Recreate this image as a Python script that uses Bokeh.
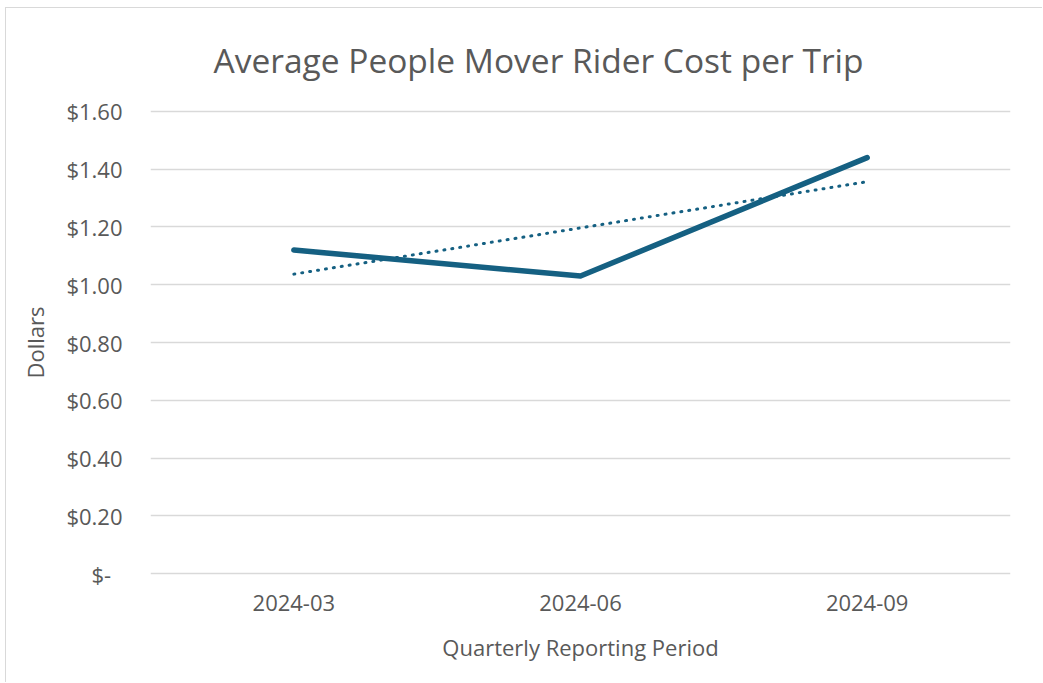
import numpy as np
from bokeh.plotting import figure
from bokeh.models import FactorRange, Range1d, FixedTicker, CustomJSTickFormatter, Title
from bokeh.embed import file_html
from bokeh.resources import INLINE

periods = ["2024-03", "2024-06", "2024-09"]
cost = [1.12, 1.03, 1.44]
y_ticks = [0.0, 0.2, 0.4, 0.6, 0.8, 1.0, 1.2, 1.4, 1.6]

# linear trendline (least squares on period index), as in the source chart
idx = np.arange(len(cost))
slope, intercept = np.polyfit(idx, cost, 1)
trend = list(intercept + slope * idx)

LINE = "#156082"
TXT = "#595959"
FONT = "Open Sans"

p = figure(width=1037, height=675, x_range=FactorRange(*periods),
           y_range=Range1d(-0.01, 1.61), output_backend="svg", toolbar_location=None,
           min_border_left=144, min_border_top=100, min_border_right=33,
           min_border_bottom=107)
p.styles = {"border-left": "1px solid #d9d9d9", "border-top": "1px solid #d9d9d9",
            "margin-left": "5px", "margin-top": "7px"}

p.add_layout(Title(text="Average People Mover Rider Cost per Trip", align="left",
                   text_font=FONT, text_font_size="33.5px", text_font_style="normal",
                   text_color=TXT, offset=63, standoff=52), "above")

p.line(periods, trend, line_color=LINE, line_width=3, line_dash="1 7", line_cap="round")
p.line(periods, cost, line_color=LINE, line_width=5.5, line_join="round", line_cap="round")

p.outline_line_color = None
p.xgrid.grid_line_color = None
p.ygrid.grid_line_color = "#d9d9d9"
p.ygrid.grid_line_width = 1.5
p.x_range.range_padding = 0

p.yaxis.ticker = FixedTicker(ticks=y_ticks)
p.yaxis.formatter = CustomJSTickFormatter(code="""
return Math.abs(tick) < 1e-9 ? "$-\u00a0\u00a0" : "$" + tick.toFixed(2);
""")
for ax in (p.xaxis[0], p.yaxis[0]):
    ax.axis_line_color = None
    ax.major_tick_line_color = None
    ax.minor_tick_line_color = None
    ax.major_label_text_color = TXT
    ax.axis_label_text_color = TXT
    ax.axis_label_text_font_style = "normal"
    ax.major_label_text_font = FONT
    ax.major_label_text_font_size = "22px"
    ax.axis_label_text_font = FONT
    ax.axis_label_text_font_size = "22px"

p.yaxis.major_label_standoff = 22
p.yaxis.axis_label = "Dollars"
p.yaxis.axis_label_standoff = 13

p.xaxis.major_label_standoff = 12
p.xaxis.axis_label = "Quarterly Reporting Period"
p.xaxis.axis_label_standoff = 18

open("out.html", "w").write(file_html(p, INLINE))
